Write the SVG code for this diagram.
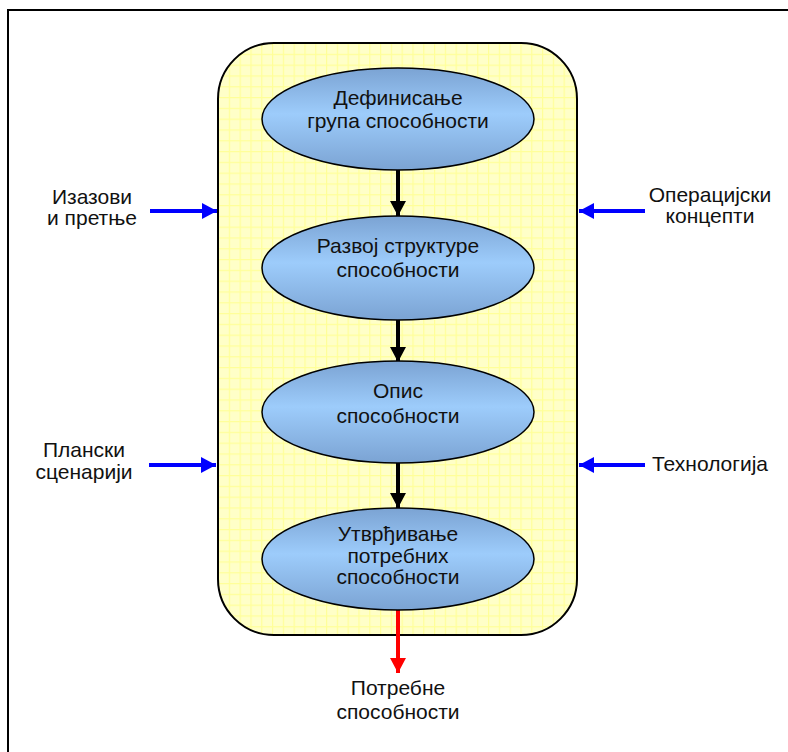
<svg xmlns="http://www.w3.org/2000/svg" width="788" height="752" viewBox="0 0 788 752">
<defs>
<pattern id="grid" x="218" y="43" width="10.8" height="10.8" patternUnits="userSpaceOnUse">
<rect width="10.8" height="10.8" fill="#FFFFC8"/>
<path d="M0 0.5H10.8M0.5 0V10.8" stroke="#FFFF99" stroke-width="1.4" fill="none"/>
</pattern>
<linearGradient id="eg" x1="0" y1="0" x2="0" y2="1">
<stop offset="0" stop-color="#7BA3D3"/>
<stop offset="0.45" stop-color="#9DCCFB"/>
<stop offset="1" stop-color="#7BA3D3"/>
</linearGradient>
<marker id="ab" markerUnits="userSpaceOnUse" markerWidth="16" markerHeight="16" refX="15" refY="8" orient="auto">
<path d="M0 0L15 8L0 16Z" fill="#000"/>
</marker>
<marker id="ar" markerUnits="userSpaceOnUse" markerWidth="16" markerHeight="16" refX="15" refY="8" orient="auto">
<path d="M0 0L15 8L0 16Z" fill="#FF0000"/>
</marker>
<marker id="au" markerUnits="userSpaceOnUse" markerWidth="16" markerHeight="16" refX="15" refY="8" orient="auto">
<path d="M0 0L15 8L0 16Z" fill="#0000FF"/>
</marker>
</defs>
<style>
text{font-family:"Liberation Sans",Arial,sans-serif;font-size:21px;fill:#111;text-anchor:middle}
.el{fill:url(#eg);stroke:#000;stroke-width:1.5}
.bk{stroke:#000;stroke-width:4;fill:none;marker-end:url(#ab)}
.rd{stroke:#FF0000;stroke-width:4;fill:none;marker-end:url(#ar)}
.bl{stroke:#0000FF;stroke-width:4;fill:none;marker-end:url(#au)}
</style>
<rect width="788" height="752" fill="#fff"/>
<rect id="frame" x="8" y="10" width="800" height="760" fill="none" stroke="#000" stroke-width="2"/>
<g id="process">
<rect x="218" y="43" width="359" height="592" rx="56" ry="56" fill="url(#grid)" stroke="#000" stroke-width="2"/>
</g>
<g id="connectors">
<line class="bk" x1="398" y1="170" x2="398" y2="216"/>
<line class="bk" x1="398" y1="320" x2="398" y2="362"/>
<line class="bk" x1="398" y1="463" x2="398" y2="508"/>
<line class="rd" x1="398" y1="610" x2="398" y2="673"/>
<line class="bl" x1="150" y1="211" x2="217" y2="211"/>
<line class="bl" x1="149" y1="465" x2="216" y2="465"/>
<line class="bl" x1="645" y1="211" x2="579" y2="211"/>
<line class="bl" x1="645" y1="465" x2="579" y2="465"/>
</g>
<g id="n1">
<ellipse class="el" cx="398" cy="119" rx="136" ry="51"/>
<text x="398" y="105">Дефинисање</text>
<text x="398" y="128">група способности</text>
</g>
<g id="n2">
<ellipse class="el" cx="398" cy="268" rx="136" ry="52"/>
<text x="398" y="253">Развој структуре</text>
<text x="398" y="277">способности</text>
</g>
<g id="n3">
<ellipse class="el" cx="398" cy="412" rx="136" ry="51"/>
<text x="398" y="398">Опис</text>
<text x="398" y="423">способности</text>
</g>
<g id="n4">
<ellipse class="el" cx="398" cy="559" rx="136" ry="51"/>
<text x="398" y="541">Утврђивање</text>
<text x="398" y="563">потребних</text>
<text x="398" y="584">способности</text>
</g>
<g id="in1">
<text x="92" y="204">Изазови</text>
<text x="92" y="225">и претње</text>
</g>
<g id="in2">
<text x="84" y="457">Плански</text>
<text x="84" y="479">сценарији</text>
</g>
<g id="in3">
<text x="710" y="202">Операцијски</text>
<text x="710" y="223">концепти</text>
</g>
<g id="in4">
<text x="710" y="471">Технологија</text>
</g>
<g id="out">
<text x="398" y="695">Потребне</text>
<text x="398" y="719">способности</text>
</g>
</svg>
